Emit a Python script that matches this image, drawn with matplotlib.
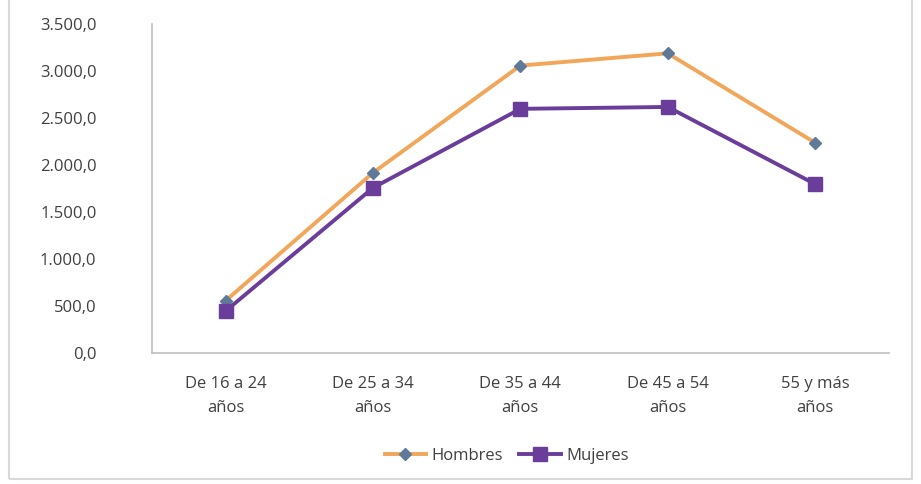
import matplotlib
matplotlib.use("Agg")
import matplotlib.pyplot as plt
from matplotlib.ticker import FuncFormatter
from matplotlib.patches import Rectangle

plt.rcParams['font.family'] = ['Open Sans', 'DejaVu Sans']

# Datos
categorias = ["De 16 a 24\naños", "De 25 a 34\naños", "De 35 a 44\naños",
              "De 45 a 54\naños", "55 y más\naños"]
hombres = [560, 1920, 3060, 3190, 2240]
mujeres = [450, 1760, 2600, 2620, 1800]
y_ticks = [0, 500, 1000, 1500, 2000, 2500, 3000, 3500]

color_hombres = "#F2A65A"
color_marker_h = "#5F7A99"
color_mujeres = "#6A3D9A"
color_eje = "#BFBFBF"
color_texto = "#404040"

fig = plt.figure(figsize=(9.21, 4.84), dpi=100)
ax = fig.add_axes([0.165, 0.27, 0.80, 0.68])

x = list(range(len(categorias)))
ax.plot(x, hombres, color=color_hombres, linewidth=2.8, marker='D',
        markersize=6.5, markerfacecolor=color_marker_h,
        markeredgecolor=color_marker_h, label="Hombres", zorder=3)
ax.plot(x, mujeres, color=color_mujeres, linewidth=2.8, marker='s',
        markersize=10, markerfacecolor=color_mujeres,
        markeredgecolor=color_mujeres, label="Mujeres", zorder=3)

ax.set_xlim(-0.5, len(categorias) - 0.5)
ax.set_ylim(0, 3500)
ax.set_yticks(y_ticks)


def formato_es(v, pos):
    s = f"{v:,.1f}"
    return s.replace(",", "X").replace(".", ",").replace("X", ".")


ax.yaxis.set_major_formatter(FuncFormatter(formato_es))
ax.set_xticks(x)
ax.set_xticklabels(categorias, linespacing=1.7)

for lado in ["top", "right"]:
    ax.spines[lado].set_visible(False)
for lado in ["left", "bottom"]:
    ax.spines[lado].set_color(color_eje)
    ax.spines[lado].set_linewidth(1.2)

ax.tick_params(axis='both', length=0, labelsize=12, colors=color_texto)
ax.tick_params(axis='y', pad=40)
ax.tick_params(axis='x', pad=16)

leg = fig.legend(loc="lower center", bbox_to_anchor=(0.55, 0.01), ncol=2,
                 frameon=False, fontsize=12, handlelength=2.5,
                 columnspacing=1.0, handletextpad=0.3)
for t in leg.get_texts():
    t.set_color(color_texto)

# borde del gráfico
fig.patches.append(Rectangle((0.01, 0.01), 0.98, 1.2, transform=fig.transFigure,
                             fill=False, edgecolor="#D9D9D9", linewidth=1.5))

fig.savefig("out.png", dpi=100)
